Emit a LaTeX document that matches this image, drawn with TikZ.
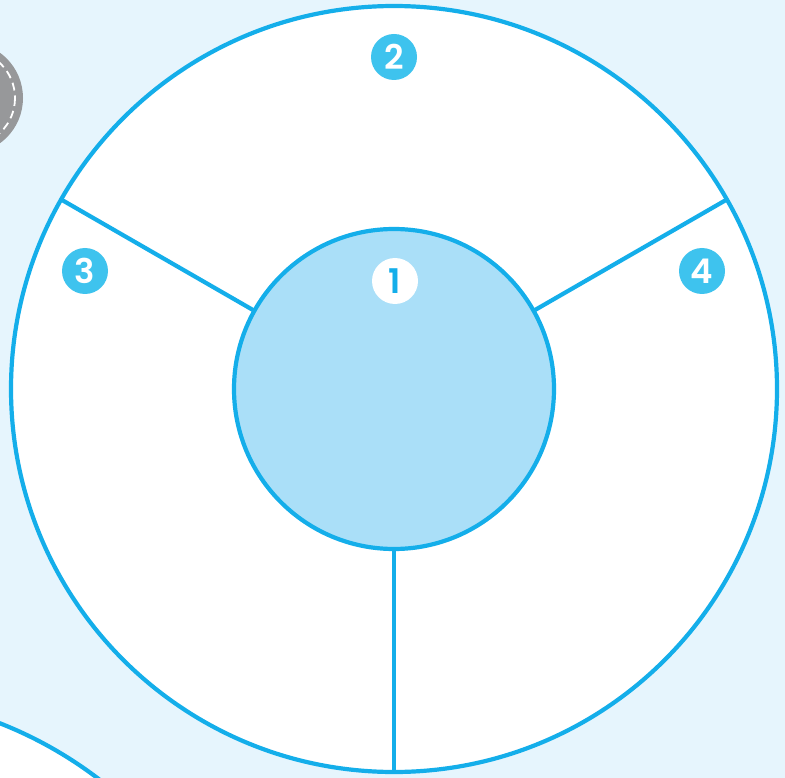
\documentclass[tikz,border=0pt]{standalone}
\usepackage{fontspec}
\setmainfont{Poppins}[BoldFont={* SemiBold}]
\definecolor{bg}{HTML}{E6F5FD}
\definecolor{ln}{HTML}{14AEEA}
\definecolor{inner}{HTML}{AADFF8}
\definecolor{badge}{HTML}{3EC3EE}
\definecolor{greyc}{HTML}{97989A}
\tikzset{
  ring/.style={draw=ln, line width=4.2pt},
  badgenode/.style={circle, fill=badge, minimum size=46pt, inner sep=0pt, text=white, font=\fontsize{34}{34}\selectfont\bfseries},
  badgewhite/.style={circle, fill=white, minimum size=46pt, inner sep=0pt, text=ln, font=\fontsize{34}{34}\selectfont\bfseries},
}
\begin{document}
\begin{tikzpicture}[x=1pt,y=-1pt]
\useasboundingbox (0,0) rectangle (785,778);
\fill[bg] (0,0) rectangle (785,778);
\begin{scope}
\clip (0,0) rectangle (785,778);
\fill[greyc] (-33,98) circle (56);
\draw[white, line width=1.8pt, dash pattern=on 8pt off 5pt] (-33,98) circle (48);
\fill[white] (-150,1105) circle (410);
\draw[ring] (-150,1105) circle (410);
\end{scope}
\coordinate (c) at (394,389);
\fill[white] (c) circle (383);
\draw[ring] (c) circle (383);
\coordinate (o1) at (62,200);
\coordinate (o2) at (726,200);
\coordinate (o3) at (394,772);
\coordinate (i1) at (253,310);
\coordinate (i2) at (535,310);
\coordinate (i3) at (394,550);
\draw[ring] (o1) -- (i1);
\draw[ring] (o2) -- (i2);
\draw[ring] (i3) -- (o3);
\filldraw[ring, fill=inner] (c) circle (160);
\node[badgewhite] (b1) at (395,281) {1};
\node[badgenode] (b2) at (394,57) {2};
\node[badgenode] (b3) at (85,271) {3};
\node[badgenode] (b4) at (702,271) {4};
\end{tikzpicture}
\end{document}
